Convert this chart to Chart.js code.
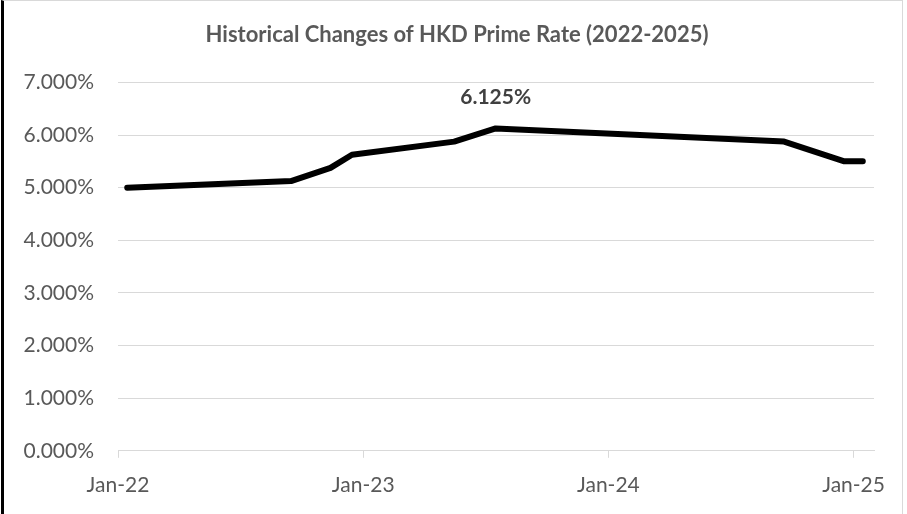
<!DOCTYPE html>
<html>
<head>
<meta charset="utf-8">
<script src="https://cdn.jsdelivr.net/npm/chart.js@4.4.1/dist/chart.umd.min.js"></script>
<style>
  html, body { margin: 0; padding: 0; background: #fff; }
  .wrap { position: relative; width: 907px; height: 514px; }
  .frame {
    position: absolute; left: 1px; top: 0; width: 902px; height: 514px;
    border-left: 3px solid #000; border-top: 1px solid #d9d9d9; border-right: 1px solid #d9d9d9;
    box-sizing: border-box; pointer-events: none;
  }
</style>
</head>
<body>
<div class="wrap">
  <canvas id="rateChart" width="907" height="514"></canvas>
  <div class="frame"></div>
</div>
<script>
// Rate change dates and the prime rate (%) in effect
const rateDates = ['2022-01-15', '2022-09-15', '2022-11-13', '2022-12-15', '2023-05-15',
                   '2023-07-16', '2024-09-19', '2024-12-18', '2025-01-15'];
const primeRates = [5.000, 5.125, 5.375, 5.625, 5.875, 6.125, 5.875, 5.500, 5.500];

// X axis ticks (months since Jan-22) and their labels
const xTickMonths = [0, 12, 24, 36];
const xTickLabels = ['Jan-22', 'Jan-23', 'Jan-24', 'Jan-25'];

const peakLabel = '6.125%';
const FONT = 'Lato, "Open Sans", sans-serif';

// Convert a date string to fractional months since Jan 2022
function monthsSince2022(str) {
  const [y, m, d] = str.split('-').map(Number);
  const daysInMonth = new Date(y, m, 0).getDate();
  return (y - 2022) * 12 + (m - 1) + (d - 1) / daysInMonth;
}

const points = rateDates.map((d, i) => ({ x: monthsSince2022(d), y: primeRates[i] }));

// Draws the bold data label above the peak point
const peakLabelPlugin = {
  id: 'peakLabel',
  afterDatasetsDraw(chart) {
    const meta = chart.getDatasetMeta(0);
    const peakIndex = primeRates.indexOf(Math.max(...primeRates));
    const pt = meta.data[peakIndex];
    const ctx = chart.ctx;
    ctx.save();
    ctx.font = 'bold 21px ' + FONT;
    ctx.fillStyle = '#404040';
    ctx.textAlign = 'center';
    ctx.textBaseline = 'middle';
    ctx.fillText(peakLabel, pt.x, pt.y - 31);
    ctx.restore();
  }
};

const ctx = document.getElementById('rateChart').getContext('2d');
new Chart(ctx, {
  type: 'line',
  data: {
    datasets: [{
      data: points,
      borderColor: '#000000',
      borderWidth: 6,
      borderCapStyle: 'round',
      borderJoinStyle: 'round',
      pointRadius: 0,
      tension: 0
    }]
  },
  plugins: [peakLabelPlugin],
  options: {
    responsive: false,
    animation: false,
    layout: { padding: { left: 7, right: 0, top: 0, bottom: 1 } },
    plugins: {
      legend: { display: false },
      tooltip: { enabled: false },
      title: {
        display: true,
        text: 'Historical Changes of HKD Prime Rate (2022-2025)',
        color: '#595959',
        font: { family: FONT, size: 22, weight: 'bold' },
        padding: { top: 22, bottom: 34 }
      }
    },
    scales: {
      x: {
        type: 'linear',
        min: 0,
        max: 37,
        afterBuildTicks(scale) {
          scale.ticks = xTickMonths.map(v => ({ value: v }));
        },
        grid: {
          drawOnChartArea: false,
          drawTicks: true,
          tickLength: 7,
          color: '#d9d9d9'
        },
        border: { display: true, color: '#d9d9d9' },
        ticks: {
          color: '#595959',
          font: { family: FONT, size: 21 },
          padding: 15,
          maxRotation: 0,
          callback: (value) => xTickLabels[xTickMonths.indexOf(value)]
        }
      },
      y: {
        min: 0,
        max: 7,
        afterFit(scale) { scale.width = 111; },
        grid: { color: '#d9d9d9', drawTicks: false },
        border: { display: false },
        ticks: {
          stepSize: 1,
          color: '#595959',
          font: { family: FONT, size: 21 },
          padding: 24,
          callback: (value) => value.toFixed(3) + '%'
        }
      },
      // empty right-hand axis, only keeps the margin right of the plot
      yRight: {
        position: 'right',
        min: 0,
        max: 7,
        afterFit(scale) { scale.width = 33; },
        grid: { display: false },
        border: { display: false },
        ticks: { display: false }
      }
    }
  }
});
</script>
</body>
</html>
